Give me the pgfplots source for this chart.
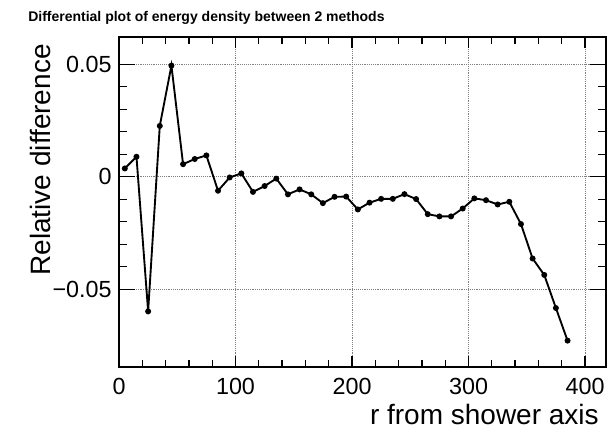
\documentclass[border=0pt]{standalone}
\usepackage{fontspec}
\setmainfont{Liberation Sans}
\usepackage{pgfplots}
\pgfplotsset{compat=1.18}
\begin{document}
\begin{tikzpicture}
\path[use as bounding box] (0,0) rectangle (455.25pt,323.25pt);
\begin{axis}[
  at={(89.25pt,48pt)}, anchor=south west,
  scale only axis, width=365.25pt, height=247.5pt,
  xmin=0, xmax=418, ymin=-0.0845, ymax=0.0621,
  scaled y ticks=false, scaled x ticks=false,
  xtick={0,100,200,300,400}, xticklabels={0,100,200,300,400},
  ytick={-0.05,0,0.05}, yticklabels={−0.05,0,0.05},
  minor x tick num=4, minor y tick num=4,
  tick align=inside, ticks=both,
  xtick style={line width=1pt, black, /pgfplots/major tick length=8.25pt, /pgfplots/minor tick length=5.25pt},
  ytick style={line width=1pt, black, /pgfplots/major tick length=12pt, /pgfplots/minor tick length=6pt},
  axis line style={line width=1.2pt},
  grid=major,
  major grid style={densely dotted, gray, line width=0.6pt},
  tick label style={font=\fontsize{17.5}{20}\selectfont},
  yticklabel style={xshift=-2pt},
  xticklabel style={yshift=-5pt},
  title={Differential plot of energy density between 2 methods},
  title style={at={(axis description cs:0,1)}, anchor=base west, xshift=-68.25pt, yshift=5.5pt, font=\bfseries\fontsize{10.5}{12}\selectfont, inner sep=0pt},
  xlabel={r from shower axis},
  xlabel style={at={(axis description cs:1,0)}, anchor=base east, xshift=-5.25pt, yshift=-43.5pt, font=\fontsize{21}{24}\selectfont, inner sep=0pt},
  ylabel={Relative difference},
  ylabel style={at={(axis description cs:0,1)}, anchor=base east, xshift=-5.25pt, yshift=51.75pt, font=\fontsize{21}{24}\selectfont, inner sep=0pt},
]
\addplot[black, line width=1.4pt, mark=*, mark size=1.5pt] coordinates {
(5,0.0037) (15,0.0089) (25,-0.0598) (35,0.0226) (45,0.0494) (55,0.0056)
(65,0.0079) (75,0.0095) (85,-0.0062) (95,-0.0003) (105,0.0015) (115,-0.0067)
(125,-0.0041) (135,-0.0008) (145,-0.0078) (155,-0.0056) (165,-0.0078) (175,-0.0117)
(185,-0.0089) (195,-0.0088) (205,-0.0145) (215,-0.0115) (225,-0.0098) (235,-0.0098)
(245,-0.0077) (255,-0.0099) (265,-0.0166) (275,-0.0176) (285,-0.0176) (295,-0.0141)
(305,-0.0096) (315,-0.0104) (325,-0.0123) (335,-0.0111) (345,-0.0210) (355,-0.0363)
(365,-0.0436) (375,-0.0583) (385,-0.0728)
};
\end{axis}
\end{tikzpicture}
\end{document}
